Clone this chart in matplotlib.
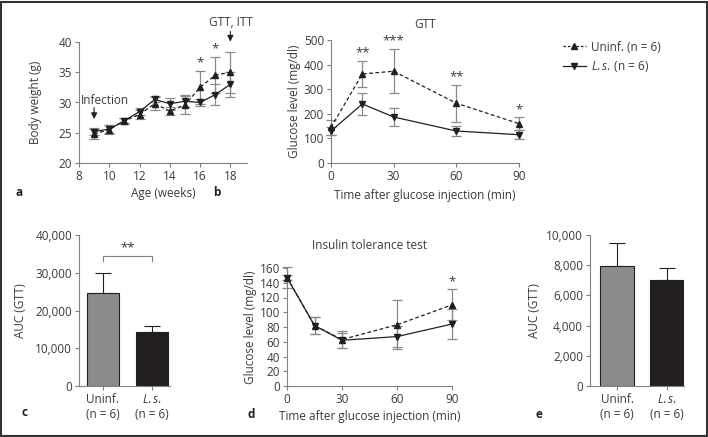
import numpy as np
import matplotlib
matplotlib.use("Agg")
import matplotlib.pyplot as plt
from matplotlib.lines import Line2D
from matplotlib.patches import Rectangle
from matplotlib.ticker import FuncFormatter

plt.rcParams['font.family'] = ['Open Sans', 'DejaVu Sans']
plt.rcParams['font.size'] = 8.5
plt.rcParams['mathtext.fontset'] = 'custom'
plt.rcParams['mathtext.it'] = 'Open Sans:italic'
plt.rcParams['mathtext.rm'] = 'Open Sans'

# ---- data ----
weeks = [9, 10, 11, 12, 13, 14, 15, 16, 17, 18]
uninf_bw = [24.8, 25.5, 27.0, 28.0, 29.8, 28.6, 29.6, 32.5, 34.5, 35.0]
uninf_bw_err = [0.9, 0.7, 0.5, 0.8, 1.1, 0.6, 1.5, 2.7, 3.0, 3.4]
ls_bw = [25.2, 25.6, 27.0, 28.5, 30.5, 29.8, 30.2, 30.0, 31.3, 33.0]
ls_bw_err = [0.6, 0.6, 0.4, 0.6, 0.5, 1.0, 1.0, 0.6, 1.7, 2.1]
bw_stars = {16: '*', 17: '*'}

times = [0, 15, 30, 60, 90]
uninf_gtt = [145, 362, 373, 243, 160]
uninf_gtt_err = [30, 52, 90, 75, 25]
ls_gtt = [130, 240, 187, 130, 115]
ls_gtt_err = [15, 45, 38, 20, 18]
gtt_stars = {15: '**', 30: '***', 60: '**', 90: '*'}

uninf_itt = [147, 82, 63, 83, 110]
uninf_itt_err = [3, 12, 12, 33, 21]
ls_itt = [147, 82, 62, 67, 84]
ls_itt_err = [14, 11, 10, 14, 20]
itt_stars = {90: '*'}

LS = '$\\it{L{.}s{.}}$'
groups = ['Uninf.\n(n = 6)', LS + '\n(n = 6)']
auc_gtt = [24700, 14400]
auc_gtt_err = [5300, 1600]
auc_itt = [7950, 7050]
auc_itt_err = [1550, 750]

# ---- style ----
W, H = 708, 437
dark = '#231f20'
grey_bar = '#8c8c8c'
ebar = '#8a8a8a'
spine = '#808080'
txt = '#3a3a3a'

fig = plt.figure(figsize=(W / 100, H / 100), dpi=100)


def ax_px(l, t, r, b):
    return fig.add_axes([l / W, 1 - b / H, (r - l) / W, (b - t) / H])


def style(ax):
    for s in ['top', 'right']:
        ax.spines[s].set_visible(False)
    for s in ['left', 'bottom']:
        ax.spines[s].set_color(spine)
        ax.spines[s].set_linewidth(0.8)
    ax.tick_params(colors=spine, labelcolor=txt, length=3, width=0.8, pad=2)
    ax.patch.set_alpha(0)


def lines(ax, x, m1, e1, m2, e2):
    ax.errorbar(x, m1, yerr=e1, fmt='none', ecolor=ebar, elinewidth=0.9, capsize=3.5, capthick=0.9, clip_on=False, zorder=2)
    ax.errorbar(x, m2, yerr=e2, fmt='none', ecolor=ebar, elinewidth=0.9, capsize=3.5, capthick=0.9, clip_on=False, zorder=2)
    ax.plot(x, m1, ls=(0, (3, 2)), color=dark, lw=0.9, marker='^', ms=5, clip_on=False, zorder=3)
    ax.plot(x, m2, ls='-', color=dark, lw=0.9, marker='v', ms=5, clip_on=False, zorder=3)


def stars(ax, x, m, e, d):
    for k, s in d.items():
        i = list(x).index(k)
        ax.annotate(s, (k, m[i] + e[i]), xytext=(0, 1), textcoords='offset points',
                    ha='center', va='bottom', fontsize=9.5, color=txt, annotation_clip=False)


# panel a
ax = ax_px(79, 42, 247, 163)
style(ax)
lines(ax, weeks, uninf_bw, uninf_bw_err, ls_bw, ls_bw_err)
stars(ax, weeks, uninf_bw, uninf_bw_err, bw_stars)
ax.set_xlim(8, 19.1)
ax.set_ylim(20, 40)
ax.set_xticks(range(8, 19, 2))
ax.set_yticks(range(20, 41, 5))
ax.set_xlabel('Age (weeks)', color=txt, labelpad=3)
ax.set_ylabel('Body weight (g)', color=txt, labelpad=12)
ax.annotate('', xy=(9, 26.8), xytext=(9, 29.6),
            arrowprops=dict(arrowstyle='-|>', color=dark, lw=0.8, mutation_scale=9))
ax.text(8.1, 30.4, 'Infection', ha='left', va='center', color=txt)
ax.annotate('', xy=(18, 39.6), xytext=(18, 42.2), annotation_clip=False,
            arrowprops=dict(arrowstyle='-|>', color=dark, lw=0.8, mutation_scale=9))
ax.text(18.05, 43.3, 'GTT, ITT', ha='center', va='center', color=txt, clip_on=False)
fig.text(16 / W, 1 - 193 / H, 'a', fontweight='bold', fontsize=8.5, color=dark, va='center')

# panel b
ax = ax_px(331, 40, 519, 163)
style(ax)
lines(ax, times, uninf_gtt, uninf_gtt_err, ls_gtt, ls_gtt_err)
stars(ax, times, uninf_gtt, uninf_gtt_err, gtt_stars)
ax.set_xlim(0, 90)
ax.set_ylim(0, 500)
ax.set_xticks([0, 30, 60, 90])
ax.set_yticks(range(0, 501, 100))
ax.set_xlabel('Time after glucose injection (min)', color=txt, labelpad=4)
ax.set_ylabel('Glucose level (mg/dl)', color=txt, labelpad=2)
ax.set_title('GTT', color=txt, fontsize=8.5, pad=9)
fig.text(213 / W, 1 - 193 / H, 'b', fontweight='bold', fontsize=8.5, color=dark, va='center')

handles = [Line2D([], [], ls=(0, (2, 1.5)), color=dark, lw=0.9, marker='^', ms=5),
           Line2D([], [], ls='-', color=dark, lw=0.9, marker='v', ms=5)]
fig.legend(handles, ['Uninf. (n = 6)', LS + '\u2009(n = 6)'], loc='upper left',
           bbox_to_anchor=(552 / W, 1 - 30 / H), frameon=False, handlelength=2.0,
           handletextpad=0.4, labelspacing=0.45, labelcolor=txt)


def bars(ax, vals, errs):
    x = np.arange(len(vals))
    ax.bar(x, vals, width=0.67, color=[grey_bar, dark], edgecolor=dark, linewidth=0.8, zorder=2)
    ax.errorbar(x, vals, yerr=[[0, 0], errs], fmt='none', ecolor=dark, elinewidth=0.8,
                capsize=6, capthick=0.8, zorder=1)
    ax.set_xticks(x)
    ax.set_xticklabels(groups)
    ax.yaxis.set_major_formatter(FuncFormatter(lambda v, p: f'{int(v):,}'))


# panel c
ax = ax_px(79, 235, 170, 386)
style(ax)
bars(ax, auc_gtt, auc_gtt_err)
ax.set_xlim(-0.49, 1.37)
ax.set_ylim(0, 40000)
ax.set_yticks(range(0, 40001, 10000))
ax.set_ylabel('AUC (GTT)', color=txt, labelpad=6)
ax.plot([0, 0, 1, 1], [33100, 34400, 34400, 33100], color=spine, lw=0.8)
ax.text(0.5, 34900, '**', ha='center', va='bottom', fontsize=9.5, color=txt)
fig.text(22 / W, 1 - 412 / H, 'c', fontweight='bold', fontsize=8.5, color=dark, va='center')

# panel d
ax = ax_px(287, 268, 452, 386)
style(ax)
lines(ax, times, uninf_itt, uninf_itt_err, ls_itt, ls_itt_err)
stars(ax, times, uninf_itt, uninf_itt_err, itt_stars)
ax.set_xlim(0, 90)
ax.set_ylim(0, 160)
ax.set_xticks([0, 30, 60, 90])
ax.set_yticks(range(0, 161, 20))
ax.set_xlabel('Time after glucose injection (min)', color=txt, labelpad=3)
ax.set_ylabel('Glucose level (mg/dl)', color=txt, labelpad=2)
ax.set_title('Insulin tolerance test', color=txt, fontsize=8.5, pad=14)
fig.text(248 / W, 1 - 414 / H, 'd', fontweight='bold', fontsize=8.5, color=dark, va='center')

# panel e
ax = ax_px(590, 235, 684, 386)
style(ax)
bars(ax, auc_itt, auc_itt_err)
ax.set_xlim(-0.54, 1.34)
ax.set_ylim(0, 10000)
ax.set_yticks(range(0, 10001, 2000))
ax.set_ylabel('AUC (GTT)', color=txt, labelpad=4)
fig.text(536 / W, 1 - 415 / H, 'e', fontweight='bold', fontsize=8.5, color=dark, va='center')

# outer frame
fig.add_artist(Rectangle((1 / W, 1 / H), 1 - 2.5 / W, 1 - 2.5 / H, transform=fig.transFigure,
                         fill=False, edgecolor='#333333', lw=1.5))

fig.savefig('out.png', dpi=100)
